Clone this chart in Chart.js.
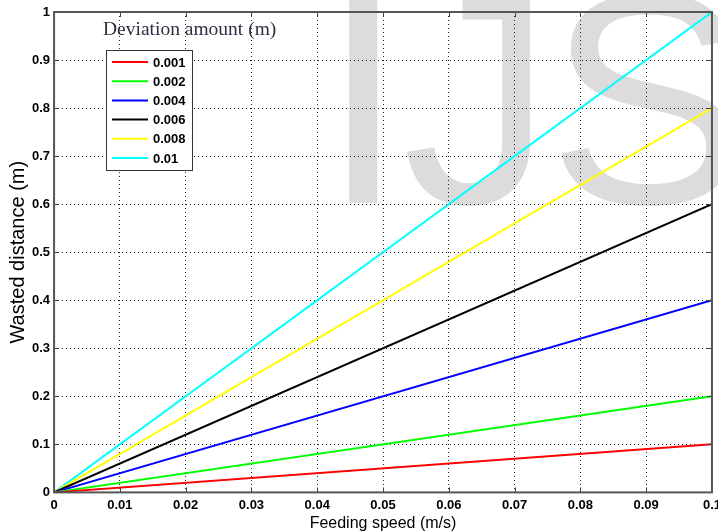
<!DOCTYPE html>
<html>
<head>
<meta charset="utf-8">
<script src="https://cdn.jsdelivr.net/npm/chart.js@4"></script>
<style>
  html, body { margin: 0; padding: 0; background: #fff; overflow: hidden; }
  #wrap { position: absolute; left: 0; top: 0; width: 726px; height: 531px; }
</style>
</head>
<body>
<div id="wrap"><canvas id="chart" width="726" height="531"></canvas></div>
<script>
// feeding speed (m/s) at the two ends of each line
const speeds = [0, 0.1];
// deviation amount (m), one line per value
const deviations = ['0.001', '0.002', '0.004', '0.006', '0.008', '0.01'];
const colors = ['#ff0000', '#00ff00', '#0000ff', '#000000', '#ffff00', '#00ffff'];
// wasted distance (m)
const wasted001 = [0, 0.1];
const wasted002 = [0, 0.2];
const wasted004 = [0, 0.4];
const wasted006 = [0, 0.6];
const wasted008 = [0, 0.8];
const wasted010 = [0, 1.0];
const allWasted = [wasted001, wasted002, wasted004, wasted006, wasted008, wasted010];

const xTicks = [0, 0.01, 0.02, 0.03, 0.04, 0.05, 0.06, 0.07, 0.08, 0.09, 0.1];
const yTicks = [0, 0.1, 0.2, 0.3, 0.4, 0.5, 0.6, 0.7, 0.8, 0.9, 1];

const tickFont = { family: 'Liberation Sans', size: 13, weight: 'bold' };

const datasets = deviations.map((d, i) => ({
    label: d,
    data: speeds.map((s, j) => ({ x: s, y: allWasted[i][j] })),
    borderColor: colors[i],
    backgroundColor: colors[i],
    borderWidth: 2,
    pointRadius: 0,
    fill: false
}));

// white background + IJS watermark, under the grid
const background = {
    id: 'background',
    beforeDraw(chart) {
        const ctx = chart.ctx;
        ctx.save();
        ctx.fillStyle = '#fff';
        ctx.fillRect(0, 0, chart.width, chart.height);
        ctx.fillStyle = '#dcdcdc';
        ctx.font = '300px "Liberation Sans"';
        ctx.textBaseline = 'alphabetic';
        const letters = [['I', 345], ['J', 407], ['S', 557]];
        letters.forEach(([ch, left]) => {
            const m = ctx.measureText(ch);
            ctx.fillText(ch, left + m.actualBoundingBoxLeft, 203);
        });
        ctx.restore();
    }
};

// box frame, inward ticks, legend box and its title
const frame = {
    id: 'frame',
    afterDraw(chart) {
        const ctx = chart.ctx;
        const a = chart.chartArea;
        const xs = chart.scales.x, ys = chart.scales.y;
        ctx.save();
        ctx.strokeStyle = '#444';
        ctx.lineWidth = 1;
        ctx.beginPath();
        xTicks.forEach(v => {
            const px = Math.round(xs.getPixelForValue(v)) + 0.5;
            ctx.moveTo(px, a.bottom); ctx.lineTo(px, a.bottom - 5);
            ctx.moveTo(px, a.top); ctx.lineTo(px, a.top + 5);
        });
        yTicks.forEach(v => {
            const py = Math.round(ys.getPixelForValue(v)) + 0.5;
            ctx.moveTo(a.left, py); ctx.lineTo(a.left + 5, py);
            ctx.moveTo(a.right, py); ctx.lineTo(a.right - 5, py);
        });
        ctx.stroke();
        ctx.strokeStyle = '#555';
        ctx.lineWidth = 2;
        ctx.strokeRect(a.left, a.top, a.right - a.left, a.bottom - a.top);

        // legend title
        ctx.fillStyle = '#2e2e40';
        ctx.font = '19.5px "Liberation Serif"';
        ctx.textBaseline = 'alphabetic';
        ctx.textAlign = 'left';
        ctx.fillText('Deviation amount (m)', 103, 35);

        // legend box
        const bx = 106.5, by = 50.5, bw = 86, bh = 120;
        ctx.fillStyle = '#fff';
        ctx.fillRect(bx, by, bw, bh);
        ctx.strokeStyle = '#333';
        ctx.lineWidth = 1;
        ctx.strokeRect(bx, by, bw, bh);
        ctx.font = 'bold 13px "Liberation Sans"';
        ctx.textBaseline = 'middle';
        chart.data.datasets.forEach((ds, i) => {
            const y = 62 + i * 19.2;
            ctx.strokeStyle = ds.borderColor;
            ctx.lineWidth = 2;
            ctx.beginPath();
            ctx.moveTo(112, y); ctx.lineTo(148, y);
            ctx.stroke();
            ctx.fillStyle = '#000';
            ctx.fillText(ds.label, 153, y + 1);
        });
        ctx.restore();
    }
};

new Chart(document.getElementById('chart'), {
    type: 'line',
    data: { datasets },
    plugins: [background, frame],
    options: {
        responsive: false,
        animation: false,
        layout: { padding: { top: 12, left: 8, right: 0, bottom: -1 } },
        plugins: {
            legend: { display: false },
            tooltip: { enabled: false }
        },
        scales: {
            x: {
                type: 'linear',
                min: 0,
                max: 0.1,
                afterBuildTicks: s => { s.ticks = xTicks.map(v => ({ value: v })); },
                ticks: {
                    color: '#000',
                    font: tickFont,
                    maxRotation: 0,
                    padding: 5,
                    callback: v => String(Number(v.toFixed(2)))
                },
                grid: { color: 'rgba(0,0,0,0.85)', lineWidth: 1, drawTicks: false },
                border: { display: false, dash: [1, 3] },
                title: {
                    display: true,
                    text: 'Feeding speed (m/s)',
                    color: '#000',
                    font: { family: 'Liberation Sans', size: 16, lineHeight: 1 },
                    padding: { top: -2, bottom: 0 }
                }
            },
            y: {
                type: 'linear',
                min: 0,
                max: 1,
                afterBuildTicks: s => { s.ticks = yTicks.map(v => ({ value: v })); },
                ticks: {
                    color: '#000',
                    font: tickFont,
                    padding: 4,
                    callback: v => String(Number(v.toFixed(1)))
                },
                grid: { color: 'rgba(0,0,0,0.85)', lineWidth: 1, drawTicks: false },
                border: { display: false, dash: [1, 3] },
                title: {
                    display: true,
                    text: 'Wasted distance (m)',
                    color: '#000',
                    font: { family: 'Liberation Sans', size: 20, lineHeight: 1 },
                    padding: { top: 0, bottom: 0 }
                }
            }
        }
    }
});
</script>
</body>
</html>
